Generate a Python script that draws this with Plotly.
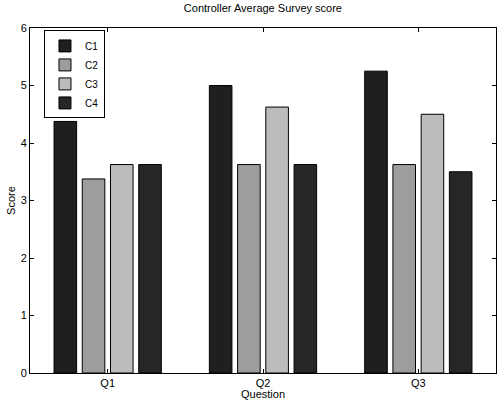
import plotly.graph_objects as go

questions = ["Q1", "Q2", "Q3"]
series_names = ["C1", "C2", "C3", "C4"]
c1 = [4.375, 5.0, 5.25]
c2 = [3.375, 3.625, 3.625]
c3 = [3.625, 4.625, 4.5]
c4 = [3.625, 3.625, 3.5]
values = [c1, c2, c3, c4]
colors = ["#1f1f1f", "#9d9d9d", "#bcbcbc", "#262626"]
x_pos = [1, 2, 3]

fig = go.Figure()
for name, vals, col in zip(series_names, values, colors):
    fig.add_trace(go.Bar(
        x=x_pos, y=vals, name=name,
        marker=dict(color=col, line=dict(color="black", width=1)),
    ))

font_family = "Liberation Sans, Arial, Helvetica, sans-serif"
fig.update_layout(
    width=497, height=400,
    margin=dict(l=30, r=1, t=28, b=27),
    paper_bgcolor="white", plot_bgcolor="white",
    font=dict(family=font_family, size=11, color="black"),
    barmode="group", bargap=0.273, bargroupgap=0.2,
    title=dict(text="Controller Average Survey score", x=0.529, xanchor="center",
               y=0.98, yanchor="middle", font=dict(size=11)),
    showlegend=True,
    legend=dict(x=0.03, y=0.993, xanchor="left", yanchor="top",
                bordercolor="black", borderwidth=1, bgcolor="white",
                font=dict(size=10), itemwidth=30, tracegroupgap=0),
    xaxis=dict(range=[0.5, 3.5], tickvals=x_pos, ticktext=questions,
               ticks="inside", ticklen=4, tickcolor="black",
               showline=True, linecolor="black", linewidth=1, mirror="ticks",
               showgrid=False, zeroline=False,
               title=dict(text="Question", standoff=0, font=dict(size=11))),
    yaxis=dict(range=[0, 6], tickvals=[0, 1, 2, 3, 4, 5, 6],
               ticks="inside", ticklen=4, tickcolor="black",
               showline=True, linecolor="black", linewidth=1, mirror="ticks",
               showgrid=False, zeroline=False,
               title=dict(text="Score", standoff=2, font=dict(size=11))),
)

fig.write_html("out.html", config={"displayModeBar": False},
               post_script="document.body.style.margin='0';")
